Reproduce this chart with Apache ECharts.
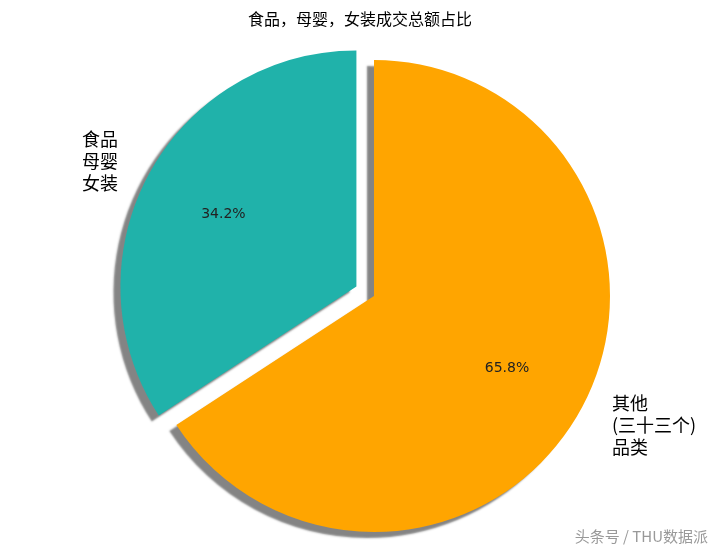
<!DOCTYPE html>
<html><head><meta charset="utf-8">
<script src="https://cdn.jsdelivr.net/npm/echarts@6/dist/echarts.min.js"></script>
<style>html,body{margin:0;background:#fff}#c{width:720px;height:552px}</style>
</head><body><div id="c"></div>
<script>
const categories = ['其他\n(三十三个)\n品类', '食品\n母婴\n女装'];
const values = [65.8, 34.2];
const colors = ['#FFA500', '#20B2AA'];
const title = '食品，母婴，女装成交总额占比';

const chart = echarts.init(document.getElementById('c'));
chart.setOption({
  animation: false,
  title: {text: title, left: 'center', top: 6, textStyle: {fontSize: 16, fontWeight: 'normal', color: '#000', fontFamily: 'Noto Sans CJK SC'}},
  series: [{
    type: 'pie', center: [374, 296], radius: 236, startAngle: 90, clockwise: true,
    selectedMode: 'single', selectedOffset: 20,
    data: values.map((v, i) => ({value: v, name: categories[i], selected: i === 1,
      itemStyle: {color: colors[i]}})),
    itemStyle: {shadowColor: 'rgba(110,110,110,0.85)', shadowOffsetX: -7, shadowOffsetY: 6, shadowBlur: 2},
    label: {position: 'inside', formatter: p => p.value.toFixed(1) + '%', fontSize: 14, color: '#222', fontFamily: 'DejaVu Sans'},
    labelLayout: p => ({dx: (p.labelRect.x + p.labelRect.width/2 - 374) * 0.25, dy: (p.labelRect.y + p.labelRect.height/2 - 296) * 0.25})
  }],
  graphic: [
    {type: 'text', left: 82, top: 128, style: {text: categories[1], font: '18px "Noto Sans CJK SC"', fill: '#000', lineHeight: 22}},
    {type: 'text', left: 612, top: 392, style: {text: categories[0], font: '18px "Noto Sans CJK SC"', fill: '#000', lineHeight: 22}},
    {type: 'text', right: 12, bottom: 8, style: {text: '头条号 / THU数据派', font: '15px "Noto Sans CJK SC"', fill: '#999'}}
  ]
});
</script></body></html>
